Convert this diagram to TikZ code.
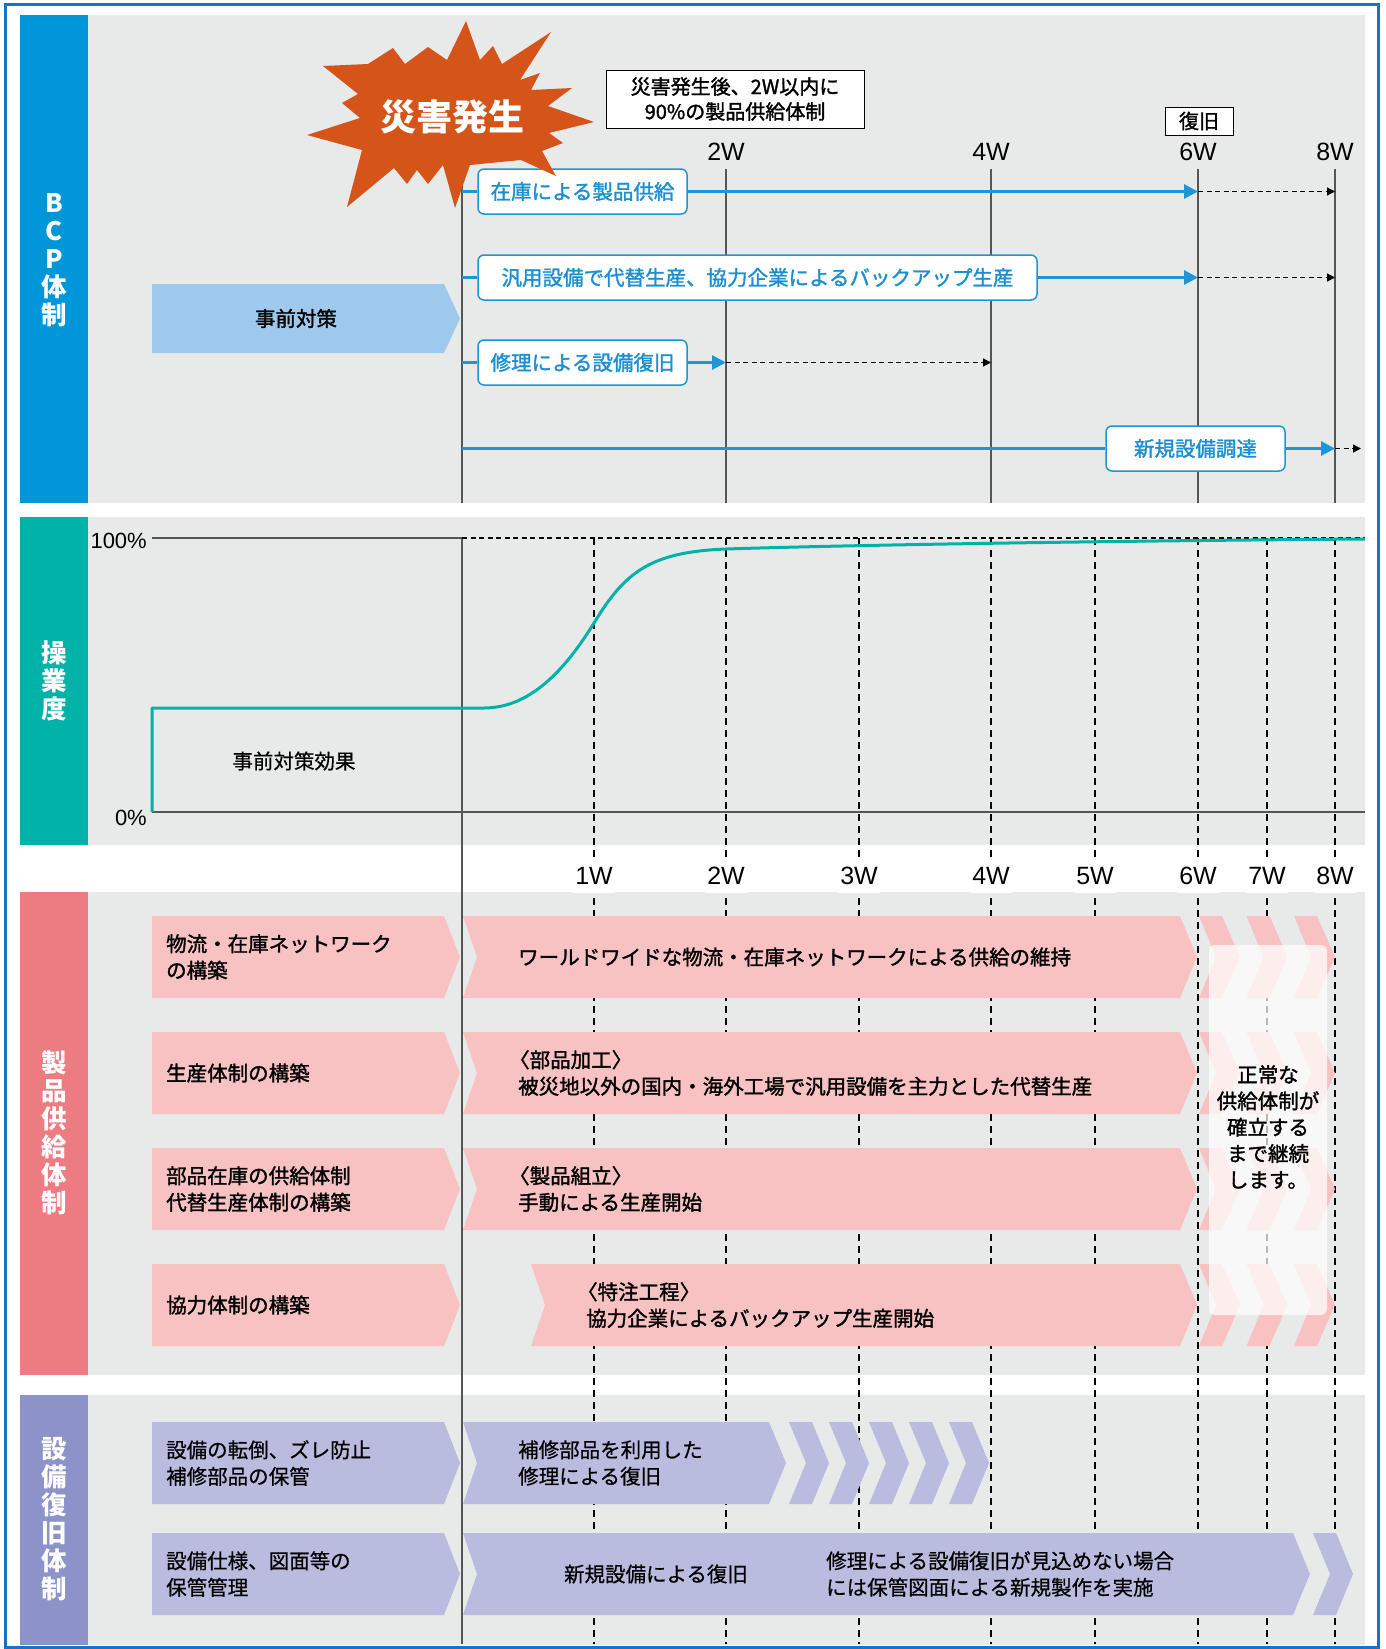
\documentclass[tikz,border=0pt]{standalone}
\usepackage{fontspec}
\setmainfont{Noto Sans CJK JP}
\newfontfamily\medfont{Noto Sans CJK JP}[FakeBold=1.5]
\newfontfamily\lightmed{Noto Sans CJK JP}[FakeBold=0.6]
\newfontfamily\lat{Liberation Sans}
\usetikzlibrary{arrows.meta}
\definecolor{frameblue}{HTML}{1B72C4}
\definecolor{bcpblue}{HTML}{0096D7}
\definecolor{tealc}{HTML}{00B2A8}
\definecolor{pinkbar}{HTML}{EC7B82}
\definecolor{purplebar}{HTML}{8D92C8}
\definecolor{panel}{HTML}{E8E9E9}
\definecolor{lightblue}{HTML}{9FC9EC}
\definecolor{pinkarrow}{HTML}{F7C2C1}
\definecolor{purplearrow}{HTML}{B9BBDF}
\definecolor{boxblue}{HTML}{1E96D6}
\definecolor{boxtext}{HTML}{1A8FD2}
\definecolor{burstc}{HTML}{D5541A}
\definecolor{gridgrey}{HTML}{555555}
% #1 colour, #2 left x, #3 notch x, #4 body end x, #5 tip x, #6 top y, #7 bottom y
\newcommand\harrow[7]{\fill[#1] (#2,#6) -- (#4,#6) -- (#5,{(#6+#7)/2}) -- (#4,#7) -- (#2,#7) -- (#3,{(#6+#7)/2}) -- cycle;}
\tikzset{
 lbl/.style={font=\lightmed\fontsize{20.5}{26.5}\selectfont, inner sep=0pt, align=left, anchor=west},
 mlbl/.style={font=\medfont\fontsize{20.5}{26.5}\selectfont, inner sep=0pt, align=left, anchor=west},
 wk/.style={font=\lat\fontsize{25}{25}\selectfont, inner sep=0pt},
 vlab/.style={font=\bfseries\fontsize{25.5}{28}\selectfont, text=white, align=center, inner sep=0pt},
 bbox/.style={draw=boxblue, line width=1.5pt, fill=white, rounded corners=6pt, minimum height=45pt, inner sep=0pt, text=boxtext, font=\medfont\fontsize{20.5}{24}\selectfont},
 bline/.style={boxblue, line width=3pt},
 btip/.style={-{Triangle[length=14pt,width=14pt]}},
 dline/.style={black, line width=1.3pt, dash pattern=on 5pt off 3.5pt, -{Triangle[length=8pt,width=8pt]}},
 gridline/.style={gridgrey, line width=1.2pt},
 wkdash/.style={black, line width=1.3pt, dash pattern=on 7pt off 5pt},
 hdash/.style={black, line width=1.2pt, dash pattern=on 5pt off 3.5pt},
 blackbox/.style={draw=black, line width=1pt, fill=white, inner sep=0pt, align=center, font=\medfont\fontsize{20}{25}\selectfont},
}
\begin{document}
\begin{tikzpicture}[x=1pt,y=-1pt]
\useasboundingbox (0,0) rectangle (1385,1649);
\fill[white] (0,0) rectangle (1385,1649);
% panels
\fill[panel] (88,15) rectangle (1365,503);
\fill[bcpblue] (20,15) rectangle (88,503);
\fill[panel] (88,517) rectangle (1365,845);
\fill[tealc] (20,517) rectangle (88,845);
\fill[panel] (88,892) rectangle (1365,1375);
\fill[pinkbar] (20,892) rectangle (88,1375);
\fill[panel] (88,1395) rectangle (1365,1645);
\fill[purplebar] (20,1395) rectangle (88,1645);
\node[vlab] (vl1) at (54,260) {B\\C\\P\\体\\制};
\node[vlab] (vl2) at (54,681) {操\\業\\度};
\node[vlab] (vl3) at (54,1133) {製\\品\\供\\給\\体\\制};
\node[vlab] (vl4) at (54,1519) {設\\備\\復\\旧\\体\\制};
% ===== BCP section =====
\foreach \x in {726,991,1198,1335} \draw[gridline] (\x,169) -- (\x,503);
\draw[gridline] (462,172) -- (462,503);
\node[wk] (bw2) at (726,152) {2W};
\node[wk] (bw4) at (991,152) {4W};
\node[wk] (bw6) at (1198,152) {6W};
\node[wk] (bw8) at (1335,152) {8W};
\node[bbox, minimum width=209pt] (b1) at (582.5,191.5) {在庫による製品供給};
\node[bbox, minimum width=559pt] (b2) at (757.5,277.5) {汎用設備で代替生産、協力企業によるバックアップ生産};
\node[bbox, minimum width=209pt] (b3) at (582.5,362.5) {修理による設備復旧};
\node[bbox, minimum width=179pt] (b4) at (1195.5,448.5) {新規設備調達};
\coordinate (r1s) at (462,191.5); \coordinate (r1a) at (1198,191.5); \coordinate (r1b) at (1335,191.5);
\coordinate (r2s) at (462,277.5); \coordinate (r2a) at (1198,277.5); \coordinate (r2b) at (1335,277.5);
\coordinate (r3s) at (462,362.5); \coordinate (r3a) at (726,362.5); \coordinate (r3b) at (991,362.5);
\coordinate (r4s) at (462,448.5); \coordinate (r4a) at (1335,448.5); \coordinate (r4b) at (1361,448.5);
\draw[bline] (r1s) -- (b1.west);
\draw[bline,btip] (b1.east) -- (r1a);
\draw[dline] (r1a) -- (r1b);
\draw[bline] (r2s) -- (b2.west);
\draw[bline,btip] (b2.east) -- (r2a);
\draw[dline] (r2a) -- (r2b);
\draw[bline] (r3s) -- (b3.west);
\draw[bline,btip] (b3.east) -- (r3a);
\draw[dline] (r3a) -- (r3b);
\draw[bline] (r4s) -- (b4.west);
\draw[bline,btip] (b4.east) -- (r4a);
\draw[dline] (r4a) -- (r4b);
% pre-measures arrow
\harrow{lightblue}{152}{152}{444}{460}{284}{353}
\node[mlbl, anchor=center] (jizen) at (296,318.5) {事前対策};
% starburst
\fill[burstc] (466,21) -- (480,60) -- (493,46) -- (502,64) -- (551,32) -- (520,80) -- (540,73) -- (531,90) -- (572,88) -- (548,106) -- (594,122) -- (549,133) -- (563,143) -- (542,151) -- (556,176) -- (521,160) -- (470,165) -- (455,208) -- (443,165) -- (428,184) -- (417,170) -- (407,184) -- (394,168) -- (347,207) -- (362,150) -- (307,135) -- (360,118) -- (342,103) -- (358,94) -- (323,66) -- (368,64) -- (393,48) -- (405,64) -- (428,47) -- (447,60) -- cycle;
\node[font=\bfseries\fontsize{36}{36}\selectfont, text=white, inner sep=0pt] (saigai) at (452,117) {災害発生};
\node[blackbox, minimum width=258pt, minimum height=58pt] (goal) at (735,99) {災害発生後、2W以内に\\90\%の製品供給体制};
\node[blackbox, minimum width=68pt, minimum height=28pt] (fukkyu) at (1199,121) {復旧};
% ===== operation level section =====
\foreach \x in {594,726,859,991,1095,1198,1267,1335} \draw[wkdash] (\x,538) -- (\x,1644);
\draw[gridline] (462,538) -- (462,1644);
\draw[gridline] (152,538) -- (462,538);
\draw[hdash] (462,538) -- (1365,538);
\draw[gridline] (152,812) -- (1365,812);
\node[font=\lat\fontsize{22}{22}\selectfont, inner sep=0pt, anchor=east] (p100) at (147,541) {100\%};
\node[font=\lat\fontsize{22}{22}\selectfont, inner sep=0pt, anchor=east] (p0) at (147,818) {0\%};
\draw[tealc, line width=3pt, line join=round] (152,812) -- (152,708) -- (484,708) .. controls (530,708) and (565,670) .. (594,623) .. controls (625,572) and (650,552) .. (726,549) .. controls (850,545) and (1100,541) .. (1365,539);
\node[font=\lightmed\fontsize{20.5}{24}\selectfont, inner sep=0pt] (kouka) at (294,761) {事前対策効果};
% week labels in the gap
\foreach \x/\t/\n in {594/1W/g1,726/2W/g2,859/3W/g3,991/4W/g4,1095/5W/g5,1198/6W/g6,1267/7W/g7,1335/8W/g8}
  \node[wk, fill=white, inner xsep=2pt, minimum height=34pt] (\n) at (\x,876) {\t};
% ===== product supply section =====
\foreach \t in {916,1032,1148,1264} {
  \pgfmathsetmacro\bo{\t+82}
  \harrow{pinkarrow}{152}{152}{444}{460}{\t}{\bo}
  \foreach \i in {0,1,2} {
    \pgfmathsetmacro\xo{1199+47.5*\i}
    \harrow{pinkarrow}{\xo}{\xo+17}{\xo+23}{\xo+41}{\t}{\bo}
  }
}
\harrow{pinkarrow}{463}{477}{1180}{1197}{916}{998}
\harrow{pinkarrow}{463}{477}{1180}{1197}{1032}{1114}
\harrow{pinkarrow}{463}{477}{1180}{1197}{1148}{1230}
\harrow{pinkarrow}{531}{545}{1180}{1197}{1264}{1346}
\fill[white, opacity=0.72, rounded corners=6pt] (1209,945) rectangle (1327,1315);
\node[mlbl, anchor=center, align=center, font=\medfont\fontsize{20.5}{26.3}\selectfont] (cont) at (1268,1127) {正常な\\供給体制が\\確立する\\まで継続\\します。};
\node[mlbl] (p1l) at (166,957) {物流・在庫ネットワーク\\の構築};
\node[mlbl] (p1r) at (518,957) {ワールドワイドな物流・在庫ネットワークによる供給の維持};
\node[mlbl] (p2l) at (166,1073) {生産体制の構築};
\node[mlbl] (p2r) at (518,1073) {\kern-9pt〈部品加工〉\\被災地以外の国内・海外工場で汎用設備を主力とした代替生産};
\node[mlbl] (p3l) at (166,1189) {部品在庫の供給体制\\代替生産体制の構築};
\node[mlbl] (p3r) at (518,1189) {\kern-9pt〈製品組立〉\\手動による生産開始};
\node[mlbl] (p4l) at (166,1305) {協力体制の構築};
\node[mlbl] (p4r) at (586,1305) {\kern-9pt〈特注工程〉\\協力企業によるバックアップ生産開始};
% ===== equipment recovery section =====
\harrow{purplearrow}{152}{152}{444}{460}{1422}{1504}
\harrow{purplearrow}{152}{152}{444}{460}{1533}{1615}
\harrow{purplearrow}{463}{477}{769}{786}{1422}{1504}
\foreach \i in {0,...,4} {
  \pgfmathsetmacro\xo{789+40*\i}
  \harrow{purplearrow}{\xo}{\xo+17}{\xo+23}{\xo+40}{1422}{1504}
}
\harrow{purplearrow}{463}{477}{1293}{1310}{1533}{1615}
\harrow{purplearrow}{1313}{1330}{1336}{1353}{1533}{1615}
\node[lbl] (e1l) at (166,1463) {設備の転倒、ズレ防止\\補修部品の保管};
\node[lbl] (e1r) at (518,1463) {補修部品を利用した\\修理による復旧};
\node[lbl] (e2l) at (166,1574) {設備仕様、図面等の\\保管管理};
\node[lbl, anchor=center] (e2m) at (656,1574) {新規設備による復旧};
\node[lbl] (e2r) at (826,1574) {修理による設備復旧が見込めない場合\\には保管図面による新規製作を実施};
% outer frame
\draw[frameblue, line width=3pt] (5,4) rectangle (1378,1647);
\end{tikzpicture}
\end{document}
